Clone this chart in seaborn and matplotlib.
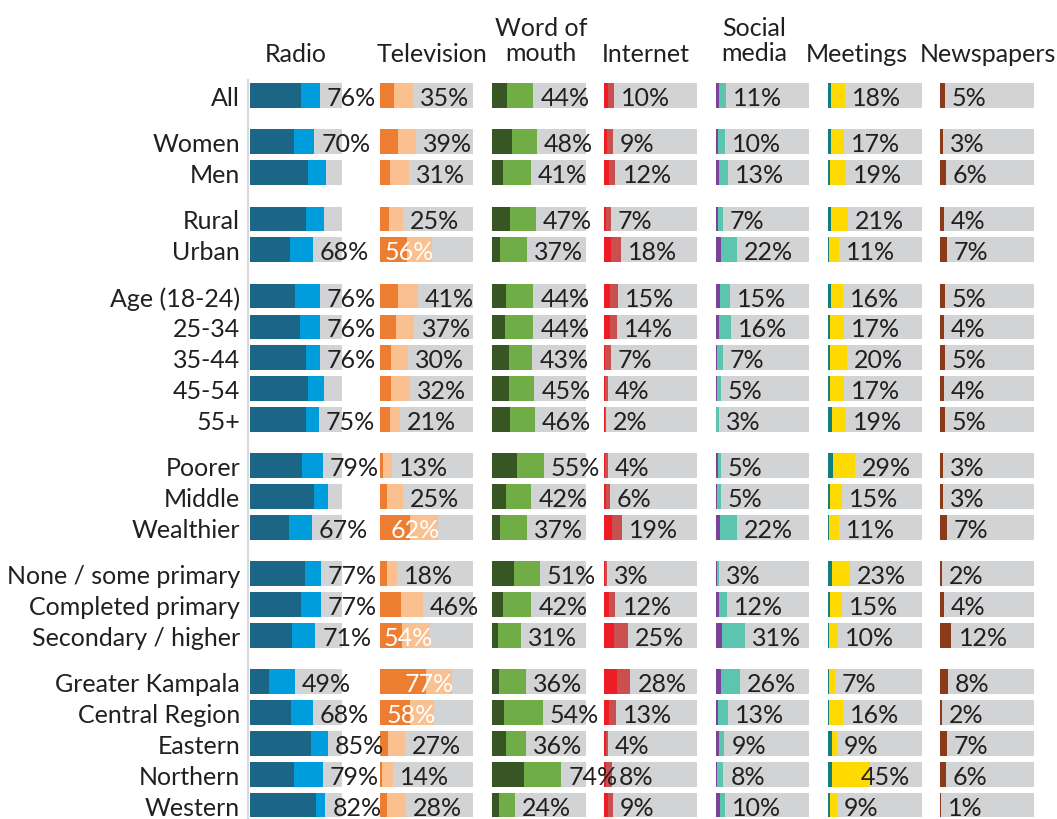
import matplotlib
matplotlib.use("Agg")
import matplotlib.pyplot as plt
import seaborn as sns

# ---- data (percent of respondents) ----
rows = ["All", "Women", "Men", "Rural", "Urban",
        "Age (18-24)", "25-34", "35-44", "45-54", "55+",
        "Poorer", "Middle", "Wealthier",
        "None / some primary", "Completed primary", "Secondary / higher",
        "Greater Kampala", "Central Region", "Eastern", "Northern", "Western"]
group_ids = [0, 1, 1, 2, 2, 3, 3, 3, 3, 3, 4, 4, 4, 5, 5, 5, 6, 6, 6, 6, 6]

radio_total = [76, 70, 83, 80, 68, 76, 76, 76, 80, 75, 79, 85, 67, 77, 77, 71, 49, 68, 85, 79, 82]
radio_daily = [55, 48, 63, 61, 44, 49, 54, 61, 63, 61, 57, 70, 42, 60, 55, 46, 21, 45, 66, 48, 72]

tv_total = [35, 39, 31, 25, 56, 41, 37, 30, 32, 21, 13, 25, 62, 18, 46, 54, 77, 58, 27, 14, 28]
tv_daily = [15, 19, 11, 10, 29, 19, 17, 12, 12, 11, 3, 8, 32, 8, 22, 24, 49, 32, 9, 2, 8]

wom_total = [44, 48, 41, 47, 37, 44, 44, 43, 45, 46, 55, 42, 37, 51, 42, 31, 36, 54, 36, 74, 24]
wom_daily = [16, 21, 11, 19, 8, 15, 14, 18, 18, 19, 26, 15, 8, 23, 11, 6, 7, 13, 15, 34, 7]

internet_total = [10, 9, 12, 7, 18, 15, 14, 7, 4, 2, 4, 6, 19, 3, 12, 25, 28, 13, 4, 8, 9]
internet_daily = [4, 3, 5, 2, 7, 6, 6, 0.5, 0.5, 0.3, 0.5, 2, 8, 1, 5, 10, 14, 5, 2, 2, 4]

social_total = [11, 10, 13, 7, 22, 15, 16, 7, 5, 3, 5, 5, 22, 3, 12, 31, 26, 13, 9, 8, 10]
social_daily = [3, 2.5, 3.5, 2, 5, 4, 3.5, 1, 1, 0.3, 2, 1.5, 4, 1, 3, 6, 5, 2, 3, 1, 4]

meetings_total = [18, 17, 19, 21, 11, 16, 17, 20, 17, 19, 29, 15, 11, 23, 15, 10, 7, 16, 9, 45, 9]
meetings_daily = [2.5, 2.5, 2, 3, 1, 2.5, 2, 1.5, 1.5, 4.5, 5.5, 2, 1, 4, 2, 1, 1, 1, 3.5, 4.5, 2]

newspapers_total = [5, 3, 6, 4, 7, 5, 4, 5, 4, 5, 3, 3, 7, 2, 4, 12, 8, 2, 7, 6, 1]

# ---- styling ----
GRAY = "#D1D3D4"
TEXT = "#231F20"
W, H = 1057, 820

panels = [
    # title, daily, total, dark, light, left px, width px, header centre px
    ("Radio", radio_daily, radio_total, "#1B6587", "#009DDC", 250.0, 92.0, 296),
    ("Television", tv_daily, tv_total, "#ED7D31", "#FAC090", 380.0, 93.2, 432),
    ("Word of\nmouth", wom_daily, wom_total, "#375623", "#70AD47", 492.3, 93.2, 541),
    ("Internet", internet_daily, internet_total, "#EE1C25", "#C9504F", 604.3, 93.2, 646),
    ("Social\nmedia", social_daily, social_total, "#7C4199", "#5BC5B0", 716.0, 93.2, 754),
    ("Meetings", meetings_daily, meetings_total, "#0F7F7F", "#FFDA00", 828.3, 93.2, 857),
    ("Newspapers", None, newspapers_total, None, "#8B3A1A", 940.3, 93.2, 988),
]

# labels left out on the radio panel, and one meetings label pulled back
hidden_labels = {("Radio", "Men"), ("Radio", "Rural"), ("Radio", "45-54"), ("Radio", "Middle")}
label_anchor = {("Meetings", "Northern"): 27}

sns.set_theme(style="white")
plt.rcParams["font.family"] = ["Lato", "DejaVu Sans"]
FS = 18

# vertical positions: one unit per row, half a row between groups
ypos = []
y = 0.0
prev = group_ids[0]
for g in group_ids:
    if g != prev:
        y += 0.5
    ypos.append(y)
    y += 1.0
    prev = g

first_row_px = 96.5          # centre of the first row
pitch = 30.85                # pixels per row
top_px = first_row_px - 0.5 * pitch
bottom_px = 820.0
ylim_bottom = -0.5 + (bottom_px - top_px) / pitch

fig = plt.figure(figsize=(W / 100, H / 100), dpi=100)
fig.patch.set_facecolor("white")

px2pt = 72 / 100

for i, (title, daily, total, dark, light, left, width, hx) in enumerate(panels):
    ax = fig.add_axes([left / W, 1 - bottom_px / H, width / W, (bottom_px - top_px) / H])
    ax.set_facecolor("none")
    # panels further left sit on top so overflowing labels stay readable
    ax.set_zorder(20 - i)
    common = dict(y=ypos, orient="h", native_scale=True, saturation=1,
                  width=0.8, errorbar=None, linewidth=0, ax=ax)
    sns.barplot(x=[100] * len(rows), color=GRAY, **common)
    sns.barplot(x=total, color=light, **common)
    if daily is not None:
        sns.barplot(x=daily, color=dark, **common)
    ax.set_xlim(0, 100)
    ax.set_ylim(ylim_bottom, -0.5)
    ax.set_xticks([])
    ax.set_yticks([])
    ax.set_xlabel("")
    ax.set_ylabel("")
    for side in ["top", "right", "bottom", "left"]:
        ax.spines[side].set_visible(False)

    key = title.replace("\n", " ")
    for r, v, yy in zip(rows, total, ypos):
        if (key, r) in hidden_labels:
            continue
        if key == "Television" and v >= 50:
            ax.annotate(f"{v}%", xy=(v, yy), xytext=(2 * px2pt, 0), textcoords="offset points",
                        ha="right", va="center_baseline", color="white", fontsize=FS,
                        annotation_clip=False)
        else:
            anchor = label_anchor.get((key, r), v)
            ax.annotate(f"{v}%", xy=(anchor, yy), xytext=(7 * px2pt, 0), textcoords="offset points",
                        ha="left", va="center_baseline", color=TEXT, fontsize=FS,
                        annotation_clip=False)

    fig.text(hx / W, 1 - (41 if "\n" in title else 55) / H, title, ha="center", va="center",
             color=TEXT, fontsize=FS, linespacing=1.15)

    if key == "Radio":
        ax.spines["left"].set_visible(True)
        ax.spines["left"].set_color("#D9D9D9")
        ax.spines["left"].set_linewidth(1.5)
        ax.spines["left"].set_position(("outward", 1.5))
        for r, yy in zip(rows, ypos):
            ax.annotate(r, xy=(0, yy), xycoords=("axes fraction", "data"),
                        xytext=(-10 * px2pt, 0), textcoords="offset points",
                        ha="right", va="center_baseline", color=TEXT, fontsize=FS,
                        annotation_clip=False)

fig.savefig("out.png", dpi=100, facecolor="white")
